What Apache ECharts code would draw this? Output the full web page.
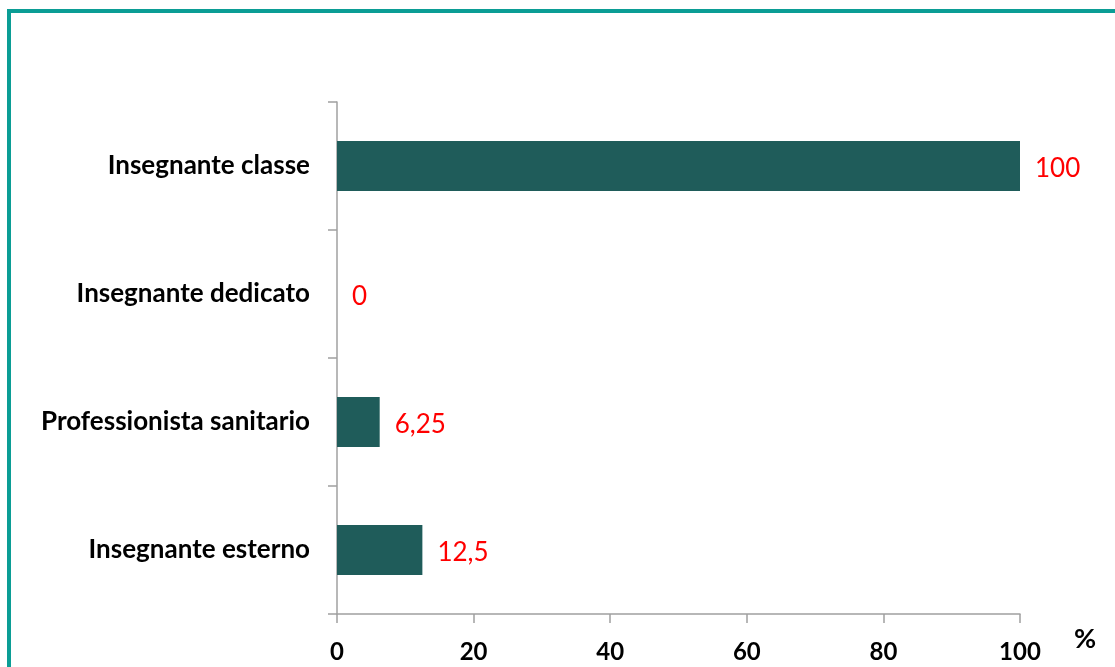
<!DOCTYPE html>
<html>
<head>
<meta charset="utf-8">
<script src="https://cdn.jsdelivr.net/npm/echarts@6/dist/echarts.min.js"></script>
<style>
    html, body { margin: 0; padding: 0; background: #fff; overflow: hidden; }
    #J_chart { width: 1115px; height: 667px; }
</style>
</head>
<body>
<div id="J_chart"></div>
<script>
// categorie (dal basso verso l'alto) e valori in %
const CATEGORIES = ['Insegnante esterno', 'Professionista sanitario', 'Insegnante dedicato', 'Insegnante classe'];
const VALUES = [12.5, 6.25, 0, 100];
const X_TICKS = [0, 20, 40, 60, 80, 100];

const FONT = 'Lato, "Open Sans", sans-serif';
const AXIS_COLOR = '#A0A0A0';

function initChart() {
    let options = {
        animation: false,
        textStyle: { fontFamily: FONT },
        grid: {
            left: 337,
            right: 95,
            top: 102,
            bottom: 53
        },
        // cornice verde acqua
        graphic: [{
            type: 'rect',
            shape: { x: 9, y: 11, width: 1300, height: 900 },
            style: { fill: 'none', stroke: '#0B9D95', lineWidth: 4 },
            silent: true
        }],
        xAxis: {
            type: 'value',
            min: X_TICKS[0],
            max: X_TICKS[X_TICKS.length - 1],
            interval: X_TICKS[1] - X_TICKS[0],
            name: '%',
            nameLocation: 'end',
            nameGap: 54,
            nameTextStyle: {
                fontFamily: FONT,
                fontSize: 27,
                fontWeight: 'bold',
                color: '#000',
                verticalAlign: 'top',
                padding: [12, 0, 0, 0]
            },
            axisLine: { show: true, lineStyle: { color: AXIS_COLOR, width: 1.5 } },
            axisTick: { show: true, length: 9, lineStyle: { color: AXIS_COLOR, width: 1.5 } },
            axisLabel: {
                margin: 26,
                fontFamily: FONT,
                fontSize: 24,
                fontWeight: 'bold',
                color: '#000'
            },
            splitLine: { show: false }
        },
        yAxis: {
            type: 'category',
            data: CATEGORIES,
            axisLine: { show: true, lineStyle: { color: AXIS_COLOR, width: 1.5 } },
            axisTick: { show: true, length: 9, lineStyle: { color: AXIS_COLOR, width: 1.5 } },
            axisLabel: {
                margin: 27,
                fontFamily: FONT,
                fontSize: 26,
                fontWeight: 'bold',
                color: '#000',
                padding: [6, 0, 0, 0]
            }
        },
        series: [{
            type: 'bar',
            data: VALUES,
            barCategoryGap: '61%',
            itemStyle: { color: '#1F5C5A' },
            label: {
                show: true,
                position: 'right',
                distance: 15,
                offset: [0, 3],
                fontFamily: FONT,
                fontSize: 26,
                color: '#FF0000',
                formatter: function (p) {
                    return String(p.value).replace('.', ',');
                }
            }
        }]
    };
    let chart = echarts.init(document.getElementById('J_chart'));
    chart.setOption(options);
}

initChart();
</script>
</body>
</html>
